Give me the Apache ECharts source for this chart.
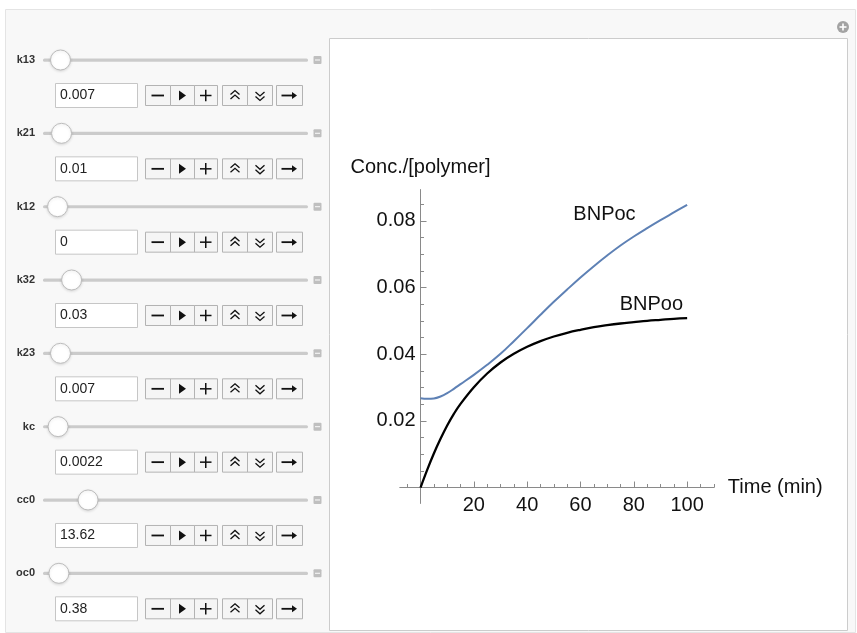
<!DOCTYPE html>
<html><head><meta charset="utf-8">
<script src="https://cdn.jsdelivr.net/npm/echarts@6/dist/echarts.min.js"></script>
<style>html,body{margin:0;padding:0;background:#fff}#c{width:857px;height:633px}</style>
</head><body><div id="c"></div>
<script>
// ---------------- data ----------------
const timeMin = [0,2.5,5,7.5,10,12.5,15,20,25,30,35,40,45,50,55,60,65,70,75,80,85,90,95,100];
const bnpOc = [0.0268,0.0266,0.0267,0.0273,0.0283,0.0296,0.0310,0.0338,0.0368,0.0401,0.0439,0.0478,0.0518,0.0557,0.0594,0.0630,0.0664,0.0696,0.0726,0.0753,0.0778,0.0802,0.0825,0.0848];
const bnpOo = [0,0.0053,0.0102,0.0146,0.0186,0.0221,0.0251,0.0301,0.0342,0.0375,0.0401,0.0422,0.0439,0.0453,0.0464,0.0473,0.0481,0.0487,0.0492,0.0496,0.0500,0.0503,0.0506,0.0508];
const seriesNames = ['BNPoc','BNPoo'];
const xMajorTicks = [20,40,60,80,100];
const xMinorTicks = [-5,5,10,15,25,30,35,45,50,55,65,70,75,85,90,95,105,110];
const yMajorTicks = [0.02,0.04,0.06,0.08];
const yMinorTicks = [0.005,0.01,0.015,0.025,0.03,0.035,0.045,0.05,0.055,0.065,0.07,0.075,0.085];
const xAxisName = 'Time (min)';
const yAxisName = 'Conc./[polymer]';
const labelAnchors = [[69,0.0818],[86.6,0.0548]]; // data-space anchor of curve labels
const paramNames = ['k13','k21','k12','k32','k23','kc','cc0','oc0'];
const paramValues = ['0.007','0.01','0','0.03','0.007','0.0022','13.62','0.38'];
const sliderFraction = [0.066,0.07,0.055,0.108,0.066,0.057,0.17,0.06];

// ---------------- layout / style ----------------
const FONT = '"Liberation Sans", Arial, Helvetica, sans-serif';
const AX = '#8a8a8a';
const ROW = 73.33;
const els = [];
els.push({type:'rect', z:-10, shape:{x:5.5,y:9.5,width:850,height:623}, style:{fill:'#f8f8f8',stroke:'#e4e4e4',lineWidth:1}});
els.push({type:'rect', z:-9, shape:{x:329.5,y:38.5,width:518,height:592}, style:{fill:'#ffffff',stroke:'#cccccc',lineWidth:1}});
// plus icon
els.push({type:'circle', z:-8, shape:{cx:843,cy:27,r:6}, style:{fill:'#a3a3a3'}});
els.push({type:'line', z:-7, shape:{x1:839.5,y1:27,x2:846.5,y2:27}, style:{stroke:'#fff',lineWidth:1.6}});
els.push({type:'line', z:-7, shape:{x1:843,y1:23.5,x2:843,y2:30.5}, style:{stroke:'#fff',lineWidth:1.6}});

function btn(x,y,w,h){
  return {type:'rect', z:-8, shape:{x:x+0.5,y:y+0.5,width:w,height:h}, style:{fill:'#f5f5f5',stroke:'#b3b3b3',lineWidth:1}};
}
paramNames.forEach((nm,i)=>{
  const sy = 60 + i*ROW;
  const base = 83 + i*ROW;
  const cy = base + 12.5;
  els.push({type:'text', z:-7, style:{x:35,y:sy,text:nm,align:'right',verticalAlign:'middle',font:'600 11px '+FONT,fill:'#333'}});
  els.push({type:'rect', z:-8, shape:{x:43,y:sy-1.5,width:265,height:3.2,r:1.5}, style:{fill:'#cbcbcb'}});
  els.push({type:'circle', z:-7, shape:{cx:43+sliderFraction[i]*265,cy:sy,r:10}, style:{fill:'#fff',stroke:'#bdbdbd',lineWidth:1,shadowBlur:3,shadowColor:'rgba(0,0,0,0.12)',shadowOffsetY:1}});
  els.push({type:'rect', z:-8, shape:{x:313.5,y:sy-4,width:8,height:8,r:1}, style:{fill:'#bfbfbf'}});
  els.push({type:'line', z:-7, shape:{x1:315,y1:sy,x2:320,y2:sy}, style:{stroke:'#f2f2f2',lineWidth:1.2}});
  // input field
  els.push({type:'rect', z:-8, shape:{x:55.5,y:base+0.5,width:82,height:24}, style:{fill:'#fff',stroke:'#c6c6c6',lineWidth:1}});
  els.push({type:'text', z:-7, style:{x:60,y:cy,text:paramValues[i],verticalAlign:'middle',font:'14px '+FONT,fill:'#222'}});
  // button group 1
  els.push(btn(145,base+2,25,20)); els.push(btn(170,base+2,24,20)); els.push(btn(194,base+2,23,20));
  els.push({type:'line', z:-7, shape:{x1:151.5,y1:cy,x2:164,y2:cy}, style:{stroke:'#111',lineWidth:1.8}});
  els.push({type:'polygon', z:-7, shape:{points:[[179,cy-5],[186,cy],[179,cy+5]]}, style:{fill:'#111'}});
  els.push({type:'line', z:-7, shape:{x1:200,y1:cy,x2:211.5,y2:cy}, style:{stroke:'#111',lineWidth:1.5}});
  els.push({type:'line', z:-7, shape:{x1:205.75,y1:cy-5.75,x2:205.75,y2:cy+5.75}, style:{stroke:'#111',lineWidth:1.5}});
  // button group 2
  els.push(btn(222,base+2,25,20)); els.push(btn(247,base+2,25,20));
  els.push({type:'polyline', z:-7, shape:{points:[[230.5,cy-1],[235,cy-5],[239.5,cy-1]]}, style:{stroke:'#111',lineWidth:1.3,fill:null}});
  els.push({type:'polyline', z:-7, shape:{points:[[230.5,cy+3.5],[235,cy-0.5],[239.5,cy+3.5]]}, style:{stroke:'#111',lineWidth:1.3,fill:null}});
  els.push({type:'polyline', z:-7, shape:{points:[[255.5,cy-3.5],[260,cy+0.5],[264.5,cy-3.5]]}, style:{stroke:'#111',lineWidth:1.3,fill:null}});
  els.push({type:'polyline', z:-7, shape:{points:[[255.5,cy+1],[260,cy+5],[264.5,cy+1]]}, style:{stroke:'#111',lineWidth:1.3,fill:null}});
  // button 3
  els.push(btn(276,base+2,26,20));
  els.push({type:'line', z:-7, shape:{x1:281.5,y1:cy,x2:293,y2:cy}, style:{stroke:'#111',lineWidth:1.8}});
  els.push({type:'polygon', z:-7, shape:{points:[[292,cy-3.5],[297,cy],[292,cy+3.5]]}, style:{fill:'#111'}});
});

const X_MIN = -7.7, X_MAX = 110, Y_MIN = -0.0047, Y_MAX = 0.0893;
const G = {left:400, top:189.8, width:313.8, height:313.4};
// offsets that place the second (major-tick) axes on the zero lines
const xZeroShift = -(G.height * (0 - Y_MIN) / (Y_MAX - Y_MIN));
const yZeroShift = -(G.width * (0 - X_MIN) / (X_MAX - X_MIN));
const zip = (a,b)=>a.map((v,k)=>[v,b[k]]);

function xAx(ticks,len,labels){
  return {type:'value', min:X_MIN, max:X_MAX, position:'bottom',
    axisLine: labels ? {show:true,onZero:false,lineStyle:{color:AX,width:1}} : {show:true,onZero:true,lineStyle:{color:AX,width:1}},
    offset: labels ? xZeroShift : 0,
    axisTick:{show:true,inside:true,length:len,customValues:ticks,lineStyle:{color:AX,width:1}},
    axisLabel: labels ? {show:true,customValues:labels,fontSize:20,color:'#111',fontFamily:FONT,margin:8} : {show:false},
    splitLine:{show:false}};
}
function yAx(ticks,len,labels){
  return {type:'value', min:Y_MIN, max:Y_MAX, position:'left',
    axisLine: labels ? {show:true,onZero:false,lineStyle:{color:AX,width:1}} : {show:true,onZero:true,lineStyle:{color:AX,width:1}},
    offset: labels ? yZeroShift : 0,
    axisTick:{show:true,inside:true,length:len,customValues:ticks,lineStyle:{color:AX,width:1}},
    axisLabel: labels ? {show:true,customValues:labels,fontSize:20,color:'#111',fontFamily:FONT,margin:5,formatter:v=>v.toFixed(2)} : {show:false},
    splitLine:{show:false}};
}
const xa0 = xAx(xMinorTicks,3.5,null);
xa0.name = xAxisName; xa0.nameLocation='end'; xa0.nameGap=14;
xa0.nameTextStyle={fontSize:20,color:'#111',fontFamily:FONT,verticalAlign:'middle',padding:[4,0,0,0]};
const ya0 = yAx(yMinorTicks,3.5,null);
ya0.name = yAxisName; ya0.nameLocation='end'; ya0.nameGap=12;
ya0.nameTextStyle={fontSize:20,color:'#111',fontFamily:FONT,align:'center'};

function mk(name,anchor){
  return {symbol:'rect',symbolSize:1,silent:true,itemStyle:{color:'rgba(0,0,0,0)'},
    label:{show:true,position:'inside',formatter:name,fontSize:20,color:'#111',fontFamily:FONT},
    data:[{coord:anchor}]};
}

const chart = echarts.init(document.getElementById('c'),null,{renderer:'canvas'});
chart.setOption({
  animation:false,
  backgroundColor:'#ffffff',
  graphic:{elements:els},
  grid:{left:G.left,top:G.top,width:G.width,height:G.height,containLabel:false},
  xAxis:[xa0, xAx(xMajorTicks,6,xMajorTicks)],
  yAxis:[ya0, yAx(yMajorTicks,6,yMajorTicks)],
  series:[
    {name:seriesNames[0],type:'line',xAxisIndex:0,yAxisIndex:0,data:zip(timeMin,bnpOc),smooth:0.4,showSymbol:false,
      lineStyle:{color:'#5e81b5',width:2},markPoint:mk(seriesNames[0],labelAnchors[0])},
    {name:seriesNames[1],type:'line',xAxisIndex:0,yAxisIndex:0,data:zip(timeMin,bnpOo),smooth:0.4,showSymbol:false,
      lineStyle:{color:'#000000',width:2.3},markPoint:mk(seriesNames[1],labelAnchors[1])}
  ]
});
</script></body></html>
